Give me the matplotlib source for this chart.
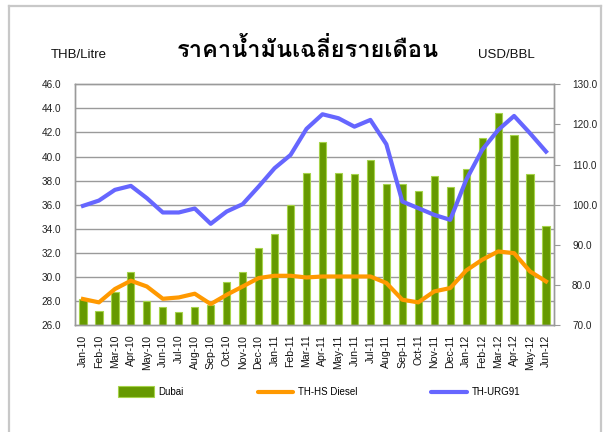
import matplotlib
matplotlib.use("Agg")
import matplotlib.pyplot as plt
from matplotlib import font_manager
from matplotlib.ft2font import FT2Font
from matplotlib.patches import Rectangle
from matplotlib.lines import Line2D
import numpy as np

months = ["Jan-10", "Feb-10", "Mar-10", "Apr-10", "May-10", "Jun-10", "Jul-10", "Aug-10",
          "Sep-10", "Oct-10", "Nov-10", "Dec-10", "Jan-11", "Feb-11", "Mar-11", "Apr-11",
          "May-11", "Jun-11", "Jul-11", "Aug-11", "Sep-11", "Oct-11", "Nov-11", "Dec-11",
          "Jan-12", "Feb-12", "Mar-12", "Apr-12", "May-12", "Jun-12"]
dubai = [76.5, 73.6, 78.2, 83.3, 76.1, 74.4, 73.2, 74.4, 74.9, 80.6, 83.3, 89.2,
         92.8, 99.9, 107.9, 115.7, 108.0, 107.6, 111.2, 105.1, 105.1, 103.4, 107.2, 104.3,
         108.8, 116.6, 122.8, 117.4, 107.6, 94.8]
diesel = [28.16, 27.88, 28.99, 29.68, 29.2, 28.18, 28.29, 28.6, 27.74, 28.51, 29.2, 29.9,
          30.09, 30.09, 29.95, 30.03, 30.03, 30.03, 30.03, 29.49, 28.1, 27.88, 28.79, 29.07,
          30.53, 31.42, 32.11, 31.97, 30.45, 29.62]
ulg91 = [35.9, 36.34, 37.23, 37.56, 36.54, 35.35, 35.35, 35.68, 34.41, 35.43, 36.04, 37.5,
         39.03, 40.13, 42.3, 43.51, 43.18, 42.48, 43.04, 41.02, 36.26, 35.71, 35.15, 34.74,
         38.06, 40.55, 42.2, 43.37, 41.93, 40.41]

title = "ราคาน้ำมันเฉลี่ยรายเดือน"
left_label = "THB/Litre"
right_label = "USD/BBL"
legend_labels = ["Dubai", "TH-HS Diesel", "TH-URG91"]


def find_thai_font():
    for f in font_manager.fontManager.ttflist:
        try:
            ft = FT2Font(f.fname)
            if ft.get_char_index(0x0E23) and ft.get_char_index(0x0E49):
                return f.name
        except Exception:
            pass
    return "DejaVu Sans"


thai_font = find_thai_font()
narrow = ["Liberation Sans Narrow", "Liberation Sans", "DejaVu Sans"]

fig = plt.figure(figsize=(6.1, 4.32), dpi=100)
W, H = 610, 432

# outer border
for xs, ys in [([8.5, 8.5], [432, 5.5]), ([8.5, 600.5], [5.5, 5.5]), ([600.5, 600.5], [5.5, 432])]:
    fig.add_artist(Line2D([v / W for v in xs], [1 - v / H for v in ys],
                          transform=fig.transFigure, color="#c8c8c8", lw=1.6))

ax = fig.add_axes([75 / W, 1 - 325 / H, (554 - 75) / W, (325 - 84.3) / H])
ax2 = ax.twinx()

x = np.arange(len(months))

# bars on right axis (USD/BBL)
ax2.bar(x, [v - 70 for v in dubai], bottom=70, width=0.45, color="#669900",
        edgecolor="#a6d34a", linewidth=0.8, zorder=2)
ax2.set_ylim(70, 130)
rt = np.arange(70, 131, 10)
ax2.set_yticks(rt)
ax2.set_yticklabels([f"{v:.1f}" for v in rt])

# lines on left axis (THB/Litre) drawn on top
ax.set_zorder(ax2.get_zorder() + 1)
ax.patch.set_visible(False)
ax.plot(x, diesel, color="#ff9900", lw=3, solid_joinstyle="round", zorder=3)
ax.plot(x, ulg91, color="#6666ff", lw=3, solid_joinstyle="round", zorder=3)
ax.set_ylim(26, 46)
lt = np.arange(26, 46.1, 2)
ax.set_yticks(lt)
ax.set_yticklabels([f"{v:.1f}" for v in lt])
ax.set_xlim(-0.5, len(months) - 0.5)
ax.set_xticks(x)
ax.set_xticklabels(months, rotation=90)

# gridlines (every 2 THB = every 6 USD) on the bar axis so they lie under the bars
for v in np.arange(76, 130, 6):
    ax2.axhline(v, color="#9a9a9a", lw=1.0, zorder=1)

for a in (ax, ax2):
    for s in a.spines.values():
        s.set_color("#9a9a9a")
        s.set_linewidth(1.0)

ax.tick_params(axis="y", length=0, pad=10, labelsize=7.2, labelcolor="#222222")
ax.tick_params(axis="x", length=0, pad=7, labelsize=7.6, labelcolor="#111111")
ax2.tick_params(axis="y", length=4, color="#9a9a9a", pad=9, labelsize=7.2, labelcolor="#222222")
for lbl in ax.get_yticklabels() + ax.get_xticklabels() + ax2.get_yticklabels():
    lbl.set_family(narrow)

fig.text(308 / W, 1 - 50 / H, title, ha="center", va="center", fontsize=17,
         fontweight="bold", family=[thai_font, "DejaVu Sans"], color="#000000")
fig.text(51 / W, 1 - 55 / H, left_label, ha="left", va="center", fontsize=9.5,
         family=narrow, color="#111111")
fig.text(478 / W, 1 - 55 / H, right_label, ha="left", va="center", fontsize=9.5,
         family=narrow, color="#111111")

# legend
ly = 1 - 392 / H
fig.add_artist(Rectangle((118 / W, 1 - 397 / H), 36 / W, 11 / H, transform=fig.transFigure,
                         facecolor="#669900", edgecolor="#a6d34a", lw=0.8))
fig.text(158 / W, ly, legend_labels[0], ha="left", va="center", fontsize=7, family=narrow)
fig.add_artist(Line2D([258 / W, 293 / W], [ly, ly], transform=fig.transFigure,
                      color="#ff9900", lw=3, solid_capstyle="round"))
fig.text(298 / W, ly, legend_labels[1], ha="left", va="center", fontsize=7, family=narrow)
fig.add_artist(Line2D([431 / W, 467 / W], [ly, ly], transform=fig.transFigure,
                      color="#6666ff", lw=3, solid_capstyle="round"))
fig.text(472 / W, ly, legend_labels[2], ha="left", va="center", fontsize=7, family=narrow)

fig.savefig("out.png", dpi=100, facecolor="white")
